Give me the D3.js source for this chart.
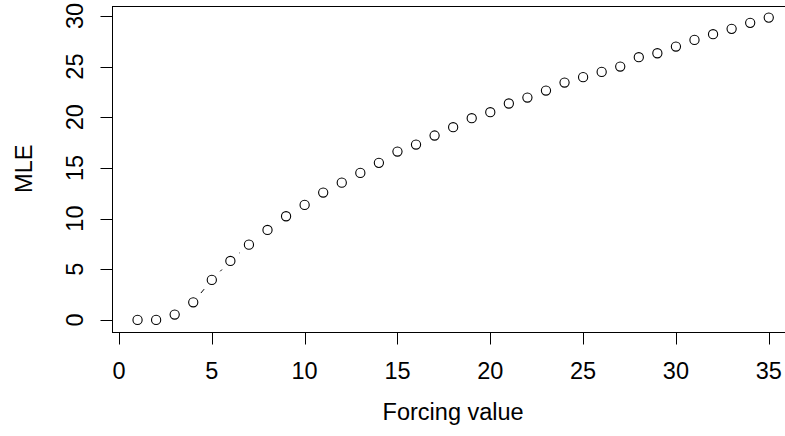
<!DOCTYPE html>
<html>
<head>
<meta charset="utf-8">
<script src="https://cdn.jsdelivr.net/npm/d3@7"></script>
<style>
  html, body { margin: 0; padding: 0; background: #fff; }
  svg { display: block; }
  text { font-family: "Liberation Sans", Arial, Helvetica, sans-serif; fill: #000; }
</style>
</head>
<body>
<svg id="chart" width="785" height="436"></svg>
<script>
// Forcing values and the maximum-likelihood estimate at each one
const forcing = d3.range(1, 36);
const mle = [
  0.0, 0.0, 0.53, 1.74, 3.95, 5.82, 7.43, 8.88, 10.23, 11.35,
  12.57, 13.55, 14.51, 15.50, 16.62, 17.31, 18.20, 19.02, 19.91, 20.50,
  21.36, 21.95, 22.64, 23.43, 23.96, 24.48, 25.01, 25.93, 26.32, 26.98,
  27.64, 28.20, 28.73, 29.32, 29.84
];
const xTicks = [0, 5, 10, 15, 20, 25, 30, 35];
const yTicks = [0, 5, 10, 15, 20, 25, 30];

const svg = d3.select("#chart");
const W = 785, H = 436;

// plot region (R-style: data range padded by 4% on each side)
const xExt = d3.extent(forcing), yExt = d3.extent(mle);
const xPad = (xExt[1] - xExt[0]) * 0.04, yPad = (yExt[1] - yExt[0]) * 0.04;
const x = d3.scaleLinear().domain([xExt[0] - xPad, xExt[1] + xPad]).range([112.3, 794]);
const y = d3.scaleLinear().domain([yExt[0] - yPad, yExt[1] + yPad]).range([332, 5.5]);

const fontSize = 23.5;
const tick = 12;

// frame
const [x0, x1] = x.range(), [y0, y1] = y.range();
svg.append("rect")
  .attr("x", Math.round(x0) + 0.5).attr("y", Math.round(y1) + 0.5)
  .attr("width", Math.round(x1) - Math.round(x0)).attr("height", Math.round(y0) - Math.round(y1))
  .attr("fill", "none").attr("stroke", "#000").attr("stroke-width", 1);

// x axis
const gx = svg.append("g").attr("transform", `translate(0,${Math.round(y0) + 0.5})`);
gx.append("line")
  .attr("x1", x(xTicks[0])).attr("x2", x(xTicks[xTicks.length - 1]))
  .attr("stroke", "#000");
gx.selectAll("line.tk").data(xTicks).join("line").attr("class", "tk")
  .attr("x1", d => Math.round(x(d)) + 0.5).attr("x2", d => Math.round(x(d)) + 0.5)
  .attr("y1", 0).attr("y2", tick).attr("stroke", "#000");
gx.selectAll("text").data(xTicks).join("text")
  .attr("x", d => x(d)).attr("y", 46)
  .attr("text-anchor", "middle").attr("font-size", fontSize)
  .text(d => d);

// y axis
const gy = svg.append("g").attr("transform", `translate(${Math.round(x0) + 0.5},0)`);
gy.append("line")
  .attr("y1", y(yTicks[0])).attr("y2", y(yTicks[yTicks.length - 1]))
  .attr("stroke", "#000");
gy.selectAll("line.tk").data(yTicks).join("line").attr("class", "tk")
  .attr("y1", d => Math.round(y(d)) + 0.5).attr("y2", d => Math.round(y(d)) + 0.5)
  .attr("x1", 0).attr("x2", -tick).attr("stroke", "#000");
gy.selectAll("text").data(yTicks).join("text")
  .attr("transform", d => `translate(-29.5,${y(d)}) rotate(-90)`)
  .attr("text-anchor", "middle").attr("font-size", fontSize)
  .text(d => d);

// axis titles
svg.append("text")
  .attr("x", (x0 + x1) / 2).attr("y", 420)
  .attr("text-anchor", "middle").attr("font-size", fontSize)
  .text("Forcing value");
svg.append("text")
  .attr("transform", `translate(32,${(y0 + y1) / 2}) rotate(-90)`)
  .attr("text-anchor", "middle").attr("font-size", fontSize)
  .text("MLE");

// connecting segments, broken around each point
const gap = 12;
const pts = forcing.map((f, i) => [x(f), y(mle[i])]);
const segs = [];
for (let i = 0; i < pts.length - 1; i++) {
  const [ax, ay] = pts[i], [bx, by] = pts[i + 1];
  const d = Math.hypot(bx - ax, by - ay);
  if (d > 2 * gap) {
    const ux = (bx - ax) / d, uy = (by - ay) / d;
    segs.push([ax + ux * gap, ay + uy * gap, bx - ux * gap, by - uy * gap]);
  }
}
svg.append("g").selectAll("line").data(segs).join("line")
  .attr("x1", d => d[0]).attr("y1", d => d[1])
  .attr("x2", d => d[2]).attr("y2", d => d[3])
  .attr("stroke", "#000").attr("stroke-width", 1);

// points
svg.append("g").selectAll("circle").data(forcing).join("circle")
  .attr("cx", (f) => x(f)).attr("cy", (f, i) => y(mle[i]))
  .attr("r", 4.6)
  .attr("fill", "none").attr("stroke", "#000").attr("stroke-width", 1.1);
</script>
</body>
</html>
